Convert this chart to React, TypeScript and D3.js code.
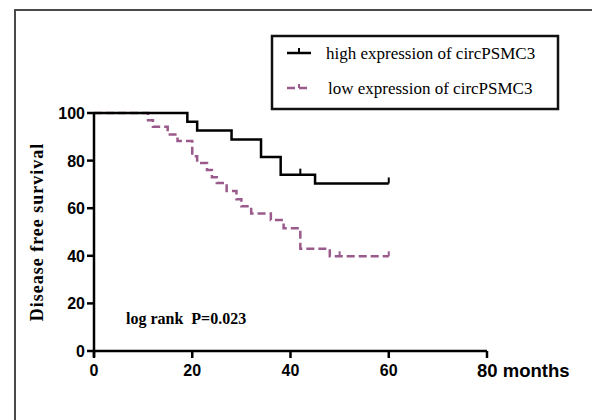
import React from "react";
import * as d3 from "d3";

// Kaplan–Meier steps: [month, survival %]
const highTimes = [0, 19, 21, 28, 34, 38, 45];
const highSurv = [100, 96.3, 92.6, 88.9, 81.5, 74.1, 70.4];
const highCensorTimes = [42, 60];

const lowTimes = [0, 11, 12, 15, 17, 20, 21, 23, 24, 25, 27, 29, 30, 32, 36, 38.6, 42, 48];
const lowSurv = [100, 97.0, 94.2, 91.0, 88.2, 81.8, 79.0, 76.1, 73.0, 70.6, 67.2, 63.8, 60.8, 57.8, 55.0, 51.6, 43.0, 39.8];
const lowCensorTimes = [50, 60];

const endTime = 60;
const xTicks = [0, 20, 40, 60, 80];
const yTicks = [0, 20, 40, 60, 80, 100];

const legendLabels = ["high expression of circPSMC3", "low expression of circPSMC3"];
const seriesColors = ["#000000", "#9a5b8c"];

const sans = "'Liberation Sans', Arial, sans-serif";
const serif = "'Liberation Serif', 'Times New Roman', serif";

function survAt(times: number[], surv: number[], t: number) {
  let v = surv[0];
  for (let i = 0; i < times.length; i++) if (times[i] <= t) v = surv[i];
  return v;
}

export default function App() {
  const W = 592, H = 420;
  const x = d3.scaleLinear().domain([0, 80]).range([94, 487]);
  const y = d3.scaleLinear().domain([0, 100]).range([351, 113]);

  const line = d3
    .line<[number, number]>()
    .x((d) => x(d[0]))
    .y((d) => y(d[1]))
    .curve(d3.curveStepAfter);

  const highPts: [number, number][] = highTimes.map((t, i) => [t, highSurv[i]] as [number, number]);
  highPts.push([endTime, highSurv[highSurv.length - 1]]);
  const lowPts: [number, number][] = lowTimes.map((t, i) => [t, lowSurv[i]] as [number, number]);
  lowPts.push([endTime, lowSurv[lowSurv.length - 1]]);

  return (
    <svg width={W} height={H} style={{ position: "absolute", left: 0, top: 0, background: "#fff" }}>
      {/* outer frame (left & top visible) */}
      <path d={`M15,${H} L15,10 L${W},10`} fill="none" stroke="#4a4a4a" strokeWidth={2} />

      {/* legend */}
      <rect x={272} y={36} width={286} height={73} fill="none" stroke="#111" strokeWidth={2.5} />
      <line x1={287} x2={311} y1={53} y2={53} stroke={seriesColors[0]} strokeWidth={2.5} />
      <line x1={299} x2={299} y1={53} y2={48} stroke={seriesColors[0]} strokeWidth={2} />
      <text x={326} y={59} fontFamily={serif} fontSize={17} fill="#000">{legendLabels[0]}</text>
      <line x1={287} x2={311} y1={88} y2={88} stroke={seriesColors[1]} strokeWidth={2.5} strokeDasharray="8,4" />
      <line x1={299} x2={299} y1={88} y2={84} stroke={seriesColors[1]} strokeWidth={2} />
      <text x={328} y={94} fontFamily={serif} fontSize={17} fill="#000">{legendLabels[1]}</text>

      {/* curves */}
      <path d={line(lowPts) || ""} fill="none" stroke={seriesColors[1]} strokeWidth={2.5} strokeDasharray="8,4" />
      {lowCensorTimes.map((t) => (
        <line key={"lc" + t} x1={x(t)} x2={x(t)} y1={y(survAt(lowTimes, lowSurv, t))} y2={y(survAt(lowTimes, lowSurv, t)) - 5} stroke={seriesColors[1]} strokeWidth={2} />
      ))}
      <path d={line(highPts) || ""} fill="none" stroke={seriesColors[0]} strokeWidth={2.5} />
      {highCensorTimes.map((t) => (
        <line key={"hc" + t} x1={x(t)} x2={x(t)} y1={y(survAt(highTimes, highSurv, t))} y2={y(survAt(highTimes, highSurv, t)) - 6} stroke={seriesColors[0]} strokeWidth={2} />
      ))}

      {/* axes */}
      <line x1={x(0)} x2={x(0)} y1={y(100)} y2={y(0) + 6} stroke="#000" strokeWidth={2.5} />
      <line x1={x(0)} x2={x(80)} y1={y(0)} y2={y(0)} stroke="#000" strokeWidth={2.5} />
      {yTicks.map((v) => (
        <g key={"y" + v}>
          <line x1={x(0) - 7} x2={x(0)} y1={y(v)} y2={y(v)} stroke="#000" strokeWidth={2.5} />
          <text x={x(0) - 9} y={y(v) + 6} textAnchor="end" fontFamily={sans} fontWeight="bold" fontSize={16} fill="#000">{v}</text>
        </g>
      ))}
      {xTicks.map((v) => (
        <g key={"x" + v}>
          <line x1={x(v)} x2={x(v)} y1={y(0)} y2={y(0) + 7} stroke="#000" strokeWidth={2.5} />
          {v < 80 ? (
            <text x={x(v)} y={376} textAnchor="middle" fontFamily={sans} fontWeight="bold" fontSize={16} fill="#000">{v}</text>
          ) : (
            <text x={x(v) - 10} y={377} textAnchor="start" fontFamily={sans} fontWeight="bold" fontSize={18.5} fill="#000">{`${v} months`}</text>
          )}
        </g>
      ))}

      {/* y label */}
      <text transform={`translate(43,232) rotate(-90)`} textAnchor="middle" fontFamily={serif} fontWeight="bold" fontSize={18} letterSpacing={1} fill="#000">Disease free survival</text>

      {/* annotation */}
      <text x={126} y={324} fontFamily={serif} fontWeight="bold" fontSize={16} fill="#000" style={{ whiteSpace: "pre" }}>log rank  P=0.023</text>
    </svg>
  );
}
